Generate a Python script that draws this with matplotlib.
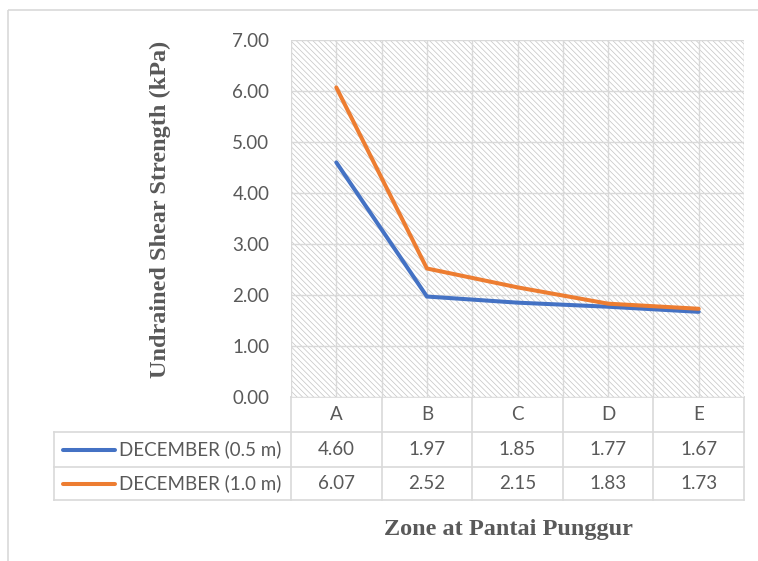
import matplotlib
matplotlib.use("Agg")
import matplotlib.pyplot as plt
from matplotlib.patches import Rectangle
from matplotlib.lines import Line2D
from matplotlib.transforms import blended_transform_factory

# ---- data ----
categories = ["A", "B", "C", "D", "E"]
series_names = ["DECEMBER (0.5 m)", "DECEMBER (1.0 m)"]
dec_05 = [4.60, 1.97, 1.85, 1.77, 1.67]
dec_10 = [6.07, 2.52, 2.15, 1.83, 1.73]
y_ticks = [0, 1, 2, 3, 4, 5, 6, 7]
x_title = "Zone at Pantai Punggur"
y_title = "Undrained Shear Strength (kPa)"

colors = ["#4472C4", "#ED7D31"]
grid_c = "#D9D9D9"
text_c = "#595959"

plt.rcParams["hatch.linewidth"] = 0.5
plt.rcParams["hatch.color"] = "#C4C4C4"

W, H = 758, 561
fig = plt.figure(figsize=(W / 100, H / 100), dpi=100)
fig.patch.set_facecolor("white")

# overlay axes in pixel coordinates
ov = fig.add_axes([0, 0, 1, 1], zorder=0)
ov.set_xlim(0, W)
ov.set_ylim(H, 0)
ov.axis("off")

# outer chart border
ov.add_patch(Rectangle((8, 10), W + 20, H + 20, fill=False, edgecolor=grid_c, lw=1.2))

# plot area
px0, px1, py0, py1 = 291, 744, 40, 397
ax = fig.add_axes([px0 / W, 1 - py1 / H, (px1 - px0) / W, (py1 - py0) / H], zorder=1)
ax.patch.set_alpha(0)
ax.add_patch(Rectangle((0, 0), 1, 1, transform=ax.transAxes, facecolor="white",
                       hatch="\\\\\\\\\\\\", edgecolor="#C4C4C4", lw=0, zorder=0))
x = list(range(len(categories)))
ax.set_xlim(-0.5, len(categories) - 0.5)
ax.set_ylim(0, 7)
ax.set_yticks(y_ticks)
ax.set_yticklabels([f"{v:.2f}" for v in y_ticks])
ax.set_xticks([i * 0.5 - 0.5 for i in range(2 * len(categories) + 1)])
ax.set_xticklabels([])
ax.tick_params(axis="both", length=0, labelsize=13.5, labelcolor=text_c, pad=15.5)
for lab in ax.get_yticklabels():
    lab.set_fontfamily("Lato")
ax.grid(True, color=grid_c, lw=1.0, zorder=1)
ax.set_axisbelow(True)
for s in ax.spines.values():
    s.set_visible(False)

for vals, c in zip([dec_05, dec_10], colors):
    ax.plot(x, vals, color=c, lw=2.9, solid_capstyle="round", solid_joinstyle="round", zorder=3)

# data table
tr = blended_transform_factory(ax.transData, ov.transData)
tl = 54
rows = [397, 432, 467, 500]
lk = dict(color=grid_c, lw=1.2)
ov.add_line(Line2D([px0, px1], [rows[0], rows[0]], **lk))
for yy in rows[1:]:
    ov.add_line(Line2D([tl, px1], [yy, yy], **lk))
ov.add_line(Line2D([tl, tl], [rows[1], rows[3]], **lk))
for b in range(len(categories) + 1):
    ov.add_line(Line2D([b - 0.5, b - 0.5], [rows[0], rows[3]], transform=tr, **lk))

font_kw = dict(fontsize=13.5, color=text_c, family="Lato", va="center", ha="center")
hy = (rows[0] + rows[1]) / 2
for i, c in enumerate(categories):
    ov.text(i, hy, c, transform=tr, **font_kw)
for r, (name, vals, col) in enumerate(zip(series_names, [dec_05, dec_10], colors)):
    yy = (rows[r + 1] + rows[r + 2]) / 2
    ov.add_line(Line2D([63, 115], [yy, yy], color=col, lw=2.9, solid_capstyle="round"))
    ov.text(119, yy, name, fontsize=13.5, color=text_c, family="Lato", va="center", ha="left")
    for i, v in enumerate(vals):
        ov.text(i, yy, f"{v:.2f}", transform=tr, **font_kw)

# axis titles
ov.text(508, 529, x_title, fontsize=17.5, fontweight="bold", family="Liberation Serif",
        color=text_c, ha="center", va="center")
ov.text(160, 209, y_title, fontsize=17.5, fontweight="bold", family="Liberation Serif",
        color=text_c, ha="center", va="center", rotation=90)

fig.savefig("out.png", dpi=100)
